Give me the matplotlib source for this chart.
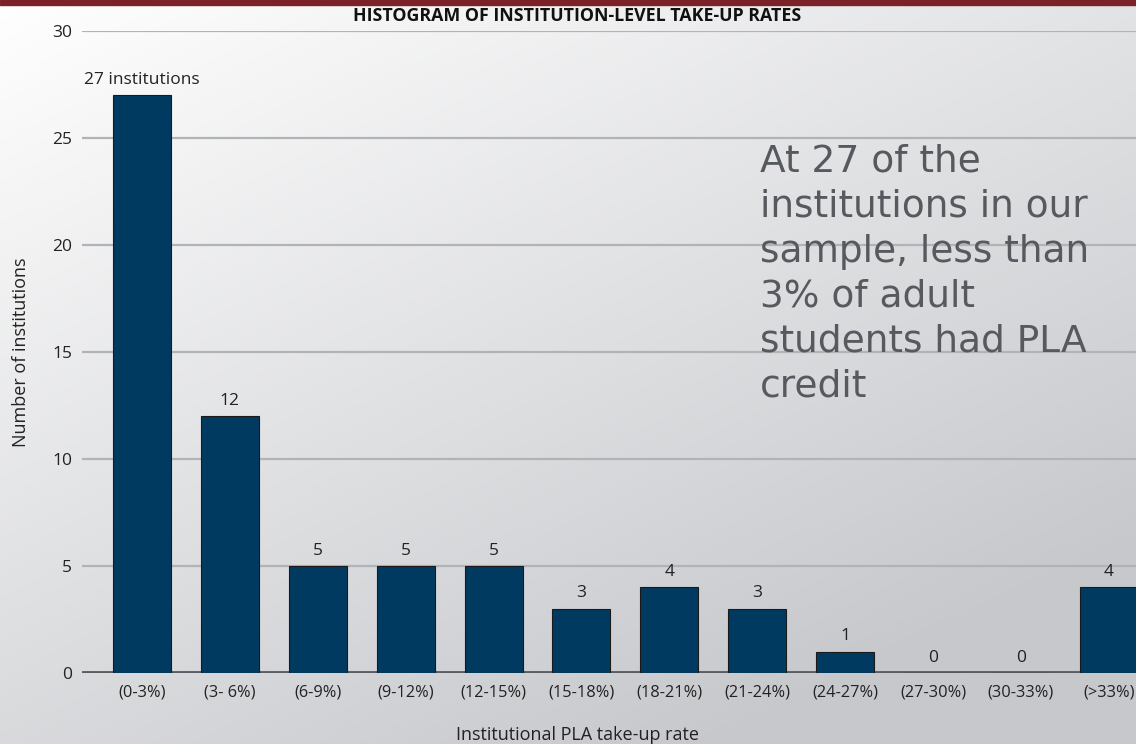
import numpy as np
import matplotlib
matplotlib.use("Agg")
import matplotlib.pyplot as plt

plt.rcParams["font.family"] = ["Open Sans", "DejaVu Sans"]

# Histogram bins and institution counts
bins = ["(0-3%)", "(3- 6%)", "(6-9%)", "(9-12%)", "(12-15%)", "(15-18%)",
        "(18-21%)", "(21-24%)", "(24-27%)", "(27-30%)", "(30-33%)", "(>33%)"]
counts = [27, 12, 5, 5, 5, 3, 4, 3, 1, 0, 0, 4]
yticks = [0, 5, 10, 15, 20, 25, 30]

title = "HISTOGRAM OF INSTITUTION-LEVEL TAKE-UP RATES"
note = ("At 27 of the\ninstitutions in our\nsample, less than\n"
        "3% of adult\nstudents had PLA\ncredit")

W, H = 1136, 744
fig = plt.figure(figsize=(W / 100, H / 100), dpi=100)

# diagonal grey gradient behind everything
bg = fig.add_axes([0, 0, 1, 1], zorder=-10)
gx, gy = np.meshgrid(np.linspace(0, 1, 300), np.linspace(0, 1, 200))
t = np.clip((0.55 * gx + 0.75 * gy) / 1.1, 0, 1)
top = np.array([1.0, 1.0, 1.0])
bot = np.array([0.78, 0.785, 0.80])
img = top[None, None, :] * (1 - t[..., None]) + bot[None, None, :] * t[..., None]
bg.imshow(img, extent=[0, 1, 0, 1], aspect="auto", origin="upper")
bg.set_axis_off()
# dark red band across the top
bg.add_patch(plt.Rectangle((0, 1 - 5 / H), 1, 5 / H, color="#7a2228",
                           transform=bg.transAxes, zorder=5))

ax = fig.add_axes([82 / W, 71 / H, 1 - 82 / W, 642 / H])
ax.set_facecolor("none")

x = np.arange(len(bins))
ax.bar(x, counts, width=0.66, color="#003a60", edgecolor="#1a1a1a",
       linewidth=0.8, zorder=3)

for xi, c in zip(x, counts):
    label = f"{c} institutions" if xi == 0 else str(c)
    ax.text(xi, c + 0.35, label, ha="center", va="bottom", fontsize=12.5,
            color="#222222", zorder=4)

ax.set_ylim(0, 30)
ax.set_xlim(-0.683, 11.31)
ax.set_yticks(yticks)
ax.set_xticks(x)
ax.set_xticklabels(bins)
ax.tick_params(axis="both", length=0, colors="#222222")
ax.tick_params(axis="y", pad=7, labelsize=12.5)
ax.tick_params(axis="x", pad=8, labelsize=11.8)

ax.grid(axis="y", color="#b2b3b6", linewidth=1.6, zorder=1)
ax.axhline(0, color="#5a5e63", linewidth=3.5, zorder=2)
for s in ax.spines.values():
    s.set_visible(False)

ax.set_ylabel("Number of institutions", fontsize=13, color="#222222")
ax.yaxis.set_label_coords(-52 / (W - 82), 0.5)
ax.set_xlabel("Institutional PLA take-up rate", fontsize=13, color="#222222")
ax.xaxis.set_label_coords((577 - 82) / (W - 82), -0.082)

fig.text(577 / W, 1 - 16 / H, title, ha="center", va="center",
         fontsize=12.8, fontweight="bold", color="#111111")
fig.text(760 / W, 1 - 144 / H, note, ha="left", va="top", fontsize=27,
         family="DejaVu Sans", color="#565a5e", linespacing=1.32)

fig.savefig("out.png", dpi=100)
